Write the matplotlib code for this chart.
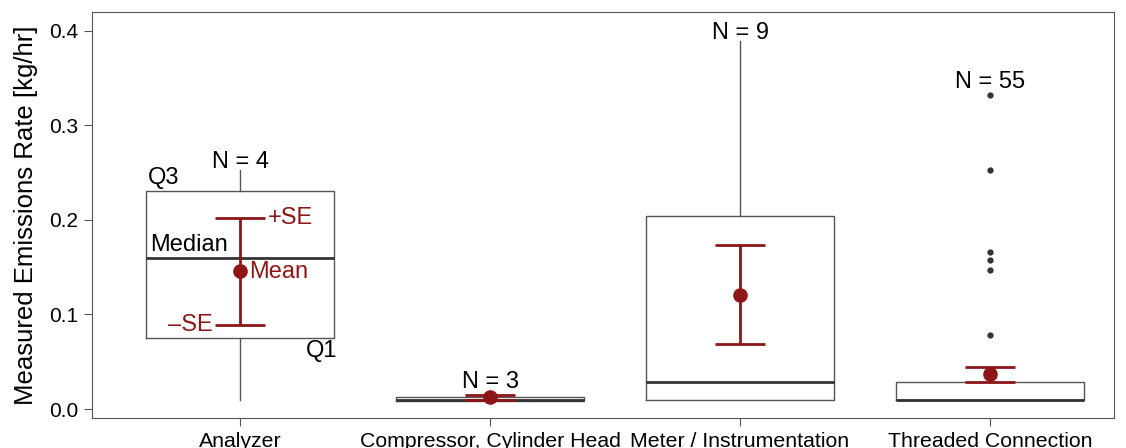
import matplotlib
matplotlib.use("Agg")
import matplotlib.pyplot as plt

plt.rcParams['font.family'] = ['Liberation Sans', 'DejaVu Sans']

categories = ["Analyzer", "Compressor, Cylinder Head", "Meter / Instrumentation", "Threaded Connection"]
counts = [4, 3, 9, 55]

# box summaries [kg/hr]
whislo = [0.0095, 0.0085, 0.0095, 0.0095]
q1 = [0.0751, 0.0085, 0.0095, 0.0095]
median = [0.1598, 0.0095, 0.0286, 0.0095]
q3 = [0.2307, 0.0127, 0.204, 0.0286]
whishi = [0.2529, 0.0127, 0.389, 0.0286]
fliers = [[], [], [], [0.332, 0.253, 0.166, 0.158, 0.147, 0.078]]

# mean +/- standard error
mean = [0.146, 0.0125, 0.121, 0.037]
se_lo = [0.089, 0.0098, 0.0685, 0.0286]
se_hi = [0.202, 0.0145, 0.173, 0.0444]

red = "#8e1616"
gray = "#555555"

fig = plt.figure(figsize=(11.26, 4.48), dpi=100)
ax = fig.add_axes([92 / 1126, 1 - 418 / 448, 1022 / 1126, 406 / 448])

stats = []
for i in range(len(categories)):
    stats.append(dict(whislo=whislo[i], q1=q1[i], med=median[i], q3=q3[i],
                      whishi=whishi[i], fliers=fliers[i]))
pos = list(range(1, len(categories) + 1))
ax.bxp(stats, positions=pos, widths=0.75, showcaps=False,
       boxprops=dict(color=gray, linewidth=1.0),
       whiskerprops=dict(color=gray, linewidth=1.0),
       medianprops=dict(color="#333333", linewidth=2.0),
       flierprops=dict(marker='o', markersize=3.5, markerfacecolor="#333333",
                       markeredgecolor="#333333"))

# gap between the top of each group and its N label
n_gap = [-0.003, 0.002, -0.003, 0.002]
for i, p in enumerate(pos):
    ax.errorbar([p], [mean[i]], yerr=[[mean[i] - se_lo[i]], [se_hi[i] - mean[i]]],
                fmt='o', color=red, ms=9.5, elinewidth=2, capsize=18, capthick=2, zorder=5)
    top = max(whishi[i], q3[i], se_hi[i], max(fliers[i]) if fliers[i] else 0)
    ax.text(p, top + n_gap[i], f"N = {counts[i]}", ha='center', va='bottom', fontsize=17)

# key annotations on the first box
ax.text(0.63, q3[0] + 0.002, "Q3", ha='left', va='bottom', fontsize=17)
ax.text(1.39, q1[0] - 0.002, "Q1", ha='right', va='top', fontsize=17)
ax.text(0.64, median[0] + 0.002, "Median", ha='left', va='bottom', fontsize=17)
ax.text(1.11, se_hi[0], "+SE", ha='left', va='center', fontsize=17, color=red)
ax.text(1.035, mean[0] - 0.001, "Mean", ha='left', va='center', fontsize=17, color=red)
ax.text(0.892, se_lo[0], "\u2013SE", ha='right', va='center', fontsize=17, color=red)

ax.set_xlim(0.408, 4.496)
ax.set_ylim(-0.0095, 0.42)
ax.set_xticks(pos)
ax.set_xticklabels(categories, fontsize=15.3)
ax.set_yticks([0.0, 0.1, 0.2, 0.3, 0.4])
ax.set_yticklabels(["0.0", "0.1", "0.2", "0.3", "0.4"], fontsize=15)
ax.set_ylabel("Measured Emissions Rate [kg/hr]", fontsize=18.5, labelpad=8)
ax.tick_params(length=6, color=gray, pad=4)
for s in ax.spines.values():
    s.set_color(gray)

fig.savefig("out.png", dpi=100)
